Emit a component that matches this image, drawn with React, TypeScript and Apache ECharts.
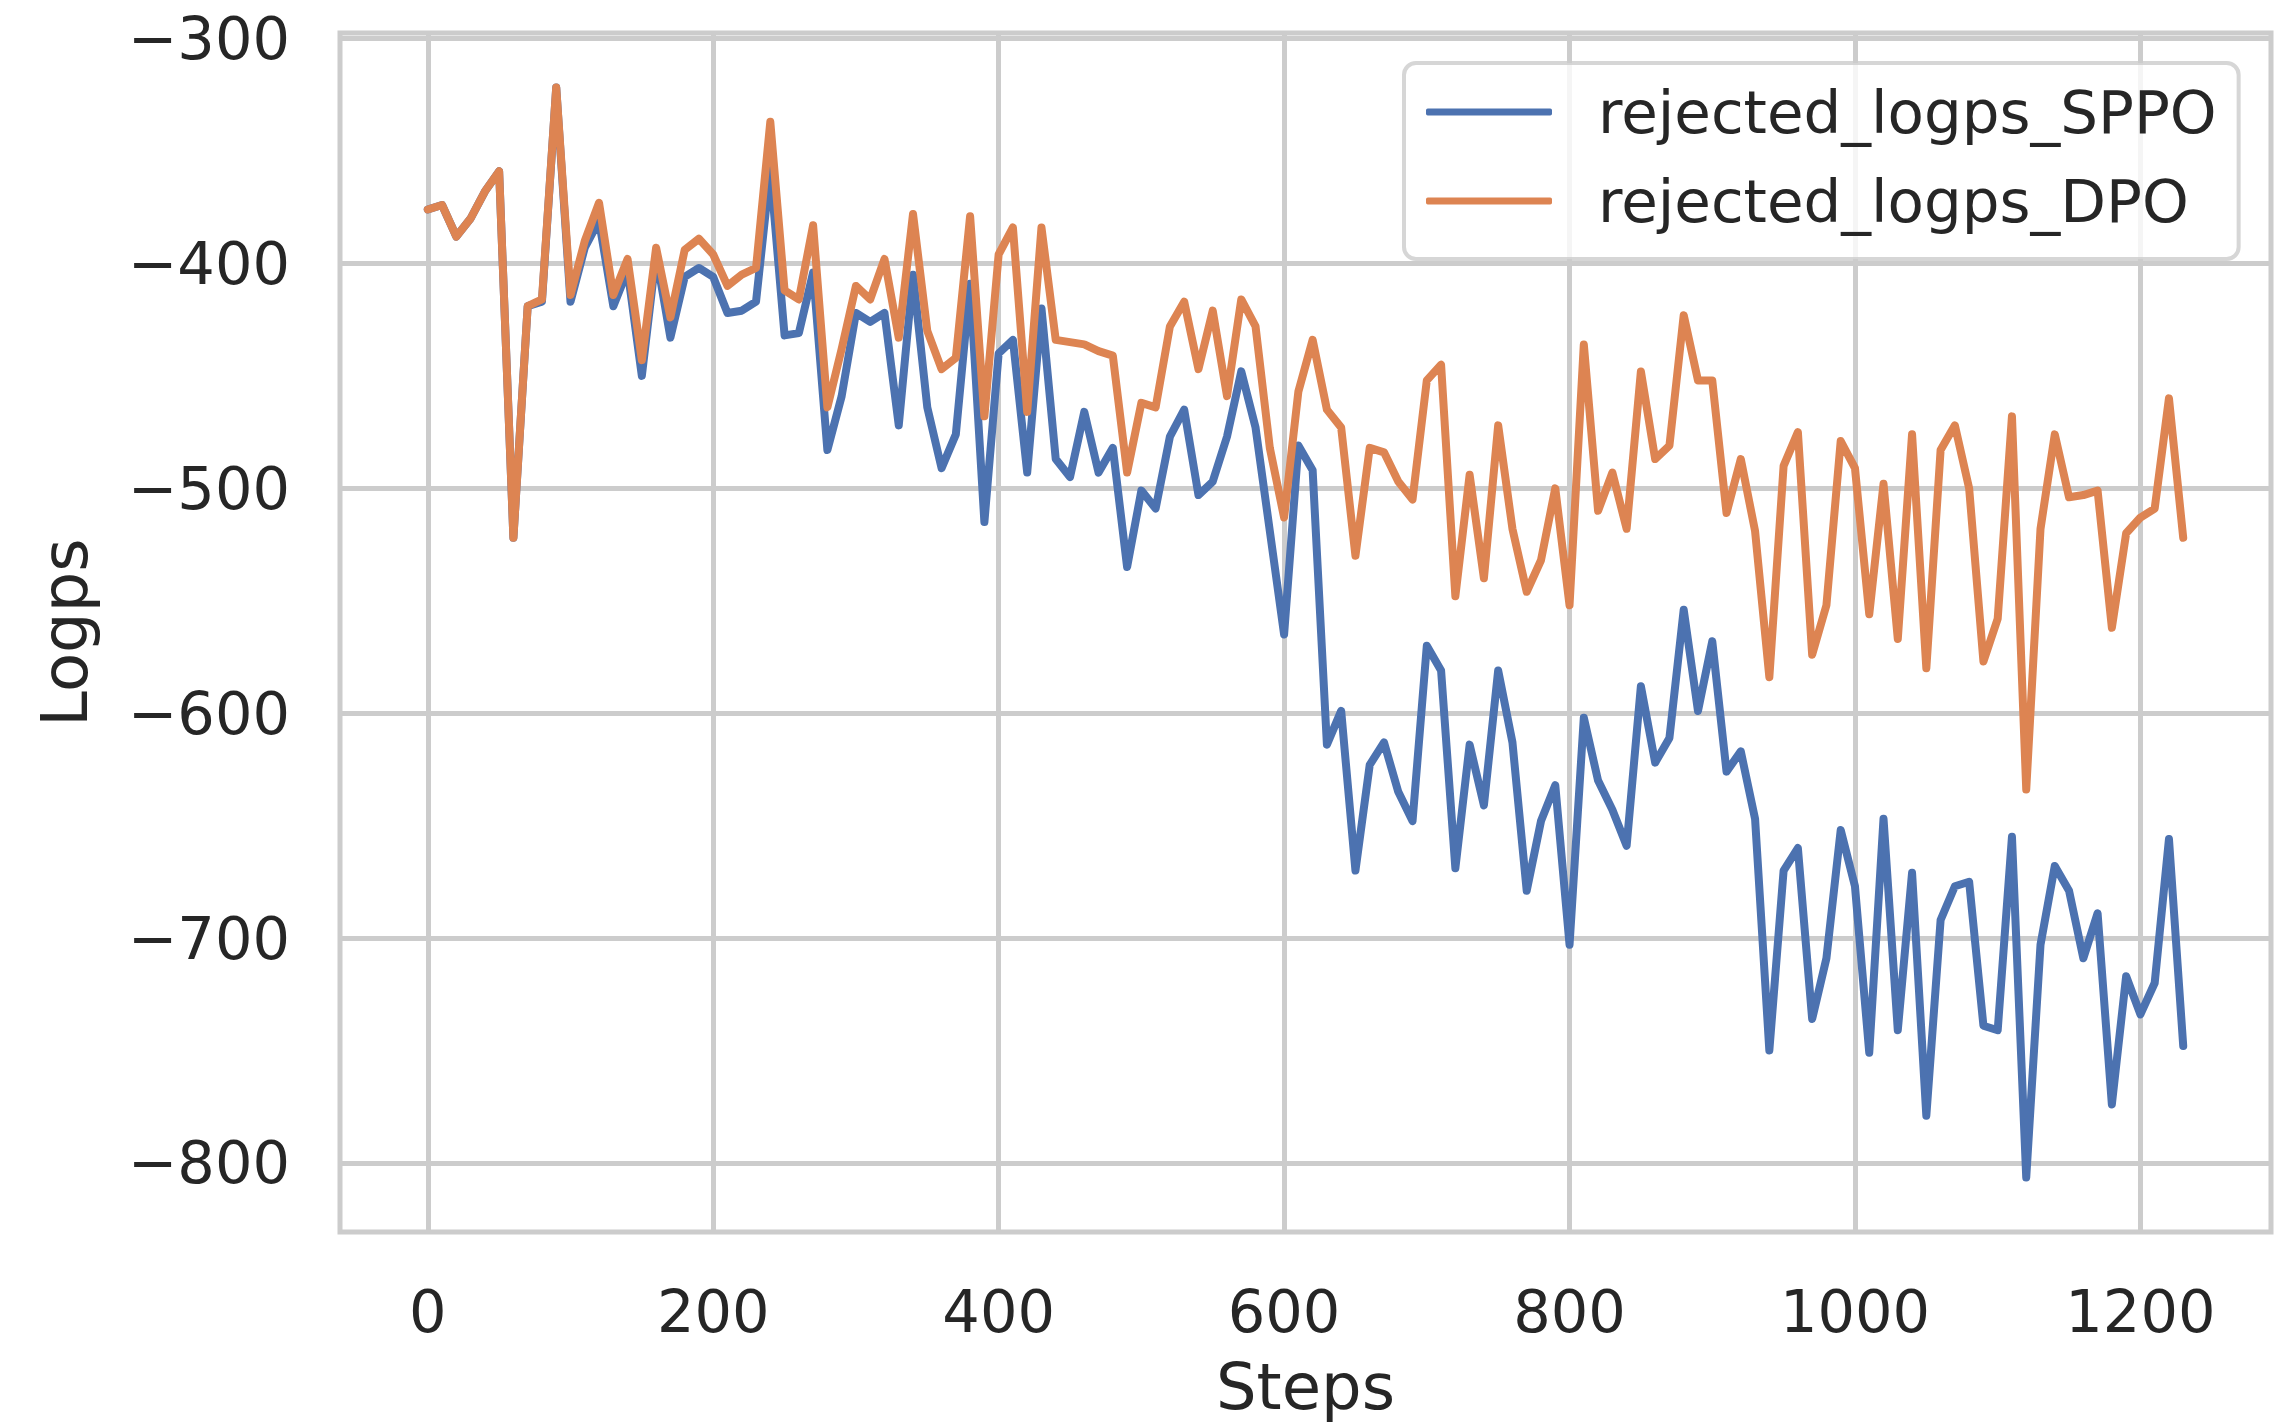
import React, { useEffect, useRef } from "react";
import * as echarts from "echarts";

const steps = [
  0, 10, 20, 30, 40, 50, 60, 70, 80, 90, 100, 110, 120, 130, 140, 150, 160, 170, 180, 190,
  200, 210, 220, 230, 240, 250, 260, 270, 280, 290, 300, 310, 320, 330, 340, 350, 360, 370, 380, 390,
  400, 410, 420, 430, 440, 450, 460, 470, 480, 490, 500, 510, 520, 530, 540, 550, 560, 570, 580, 590,
  600, 610, 620, 630, 640, 650, 660, 670, 680, 690, 700, 710, 720, 730, 740, 750, 760, 770, 780, 790,
  800, 810, 820, 830, 840, 850, 860, 870, 880, 890, 900, 910, 920, 930, 940, 950, 960, 970, 980, 990,
  1000, 1010, 1020, 1030, 1040, 1050, 1060, 1070, 1080, 1090, 1100, 1110, 1120, 1130, 1140, 1150, 1160, 1170, 1180, 1190,
  1200, 1210, 1220, 1230,
];

const sppo = [
  -376, -374, -388, -380, -368, -359, -522, -419, -417, -321.7, -417, -393, -381, -419, -403, -450, -396, -433, -406, -402,
  -406, -422, -421, -417, -358, -432, -431, -404, -483, -459, -422, -426, -422, -472, -405, -464, -491, -476, -409, -515,
  -440, -434, -493, -420, -487, -495, -466, -493, -482, -535, -501, -509, -477, -465, -503, -497, -477, -448, -473, -519,
  -565, -481, -492, -614, -599, -670, -623, -613, -635, -648, -570, -581, -669, -614, -641, -581, -613, -679, -648, -632,
  -703, -602, -630, -643, -659, -588, -622, -611, -554, -599, -568, -626, -617, -647, -750, -670, -660, -736, -709, -652,
  -677, -751, -647, -741, -671, -779, -692, -677, -675, -739, -741, -655, -806.5, -703, -668, -679, -709, -689, -774, -717,
  -734, -720, -656, -748,
];

const dpo = [
  -376, -374, -388, -380, -368, -359, -522, -419, -416, -321.7, -414, -390, -373, -414, -398, -443, -393, -424, -394, -389,
  -396, -410, -405, -402, -337, -412, -416, -383, -464, -438, -410, -416, -398, -433, -378, -430, -447, -442, -379, -468,
  -396, -384, -466, -384, -434, -435, -436, -439, -441, -493, -462, -464, -428, -417, -447, -421, -459, -416, -428, -482,
  -513, -457, -434, -465, -473, -530, -482, -484, -497, -505, -452, -445, -548, -494, -540, -472, -518, -546, -532, -500,
  -552, -436, -510, -493, -518, -448, -487, -481, -423, -452, -452, -511, -487, -519, -584, -490, -475, -574, -552, -479,
  -491, -556, -498, -567, -476, -580, -483, -472, -500, -577, -558, -468, -634, -518, -476, -504, -503, -501, -562, -520,
  -513, -509, -460, -522,
];

const xTicks = [0, 200, 400, 600, 800, 1000, 1200];
const yTicks = [-300, -400, -500, -600, -700, -800];
const seriesNames = ["rejected_logps_SPPO", "rejected_logps_DPO"];
const seriesColors = ["#4c72b0", "#dd8452"];
const xName = "Steps";
const yName = "Logps";

export default function App() {
  const ref = useRef<HTMLDivElement>(null);

  useEffect(() => {
    if (!ref.current) return;
    const chart = echarts.init(ref.current, null, { renderer: "svg" });
    const font = "DejaVu Sans";
    const textColor = "#262626";
    const grid = "#cccccc";
    const fmt = (v: number) => String(v).replace("-", "\u2212");
    const seriesData = [sppo, dpo];

    chart.setOption({
      animation: false,
      backgroundColor: "#ffffff",
      grid: {
        left: 340,
        right: 18,
        top: 33,
        bottom: 195,
        show: true,
        borderColor: grid,
        borderWidth: 5,
        backgroundColor: "transparent",
      },
      xAxis: {
        type: "value",
        min: -61.5,
        max: 1291.5,
        name: xName,
        nameLocation: "middle",
        nameGap: 123,
        nameTextStyle: { fontFamily: font, fontSize: 64, color: textColor },
        axisLine: { show: false },
        axisTick: { show: false, customValues: xTicks },
        axisLabel: {
          customValues: xTicks,
          fontFamily: font,
          fontSize: 59,
          color: textColor,
          margin: 50,
          formatter: fmt,
        },
        splitLine: { show: true, lineStyle: { color: grid, width: 5 } },
      },
      yAxis: {
        type: "value",
        min: -830.75,
        max: -297.5,
        name: yName,
        nameLocation: "middle",
        nameGap: 243,
        nameTextStyle: { fontFamily: font, fontSize: 64, color: textColor },
        axisLine: { show: false },
        axisTick: { show: false, customValues: yTicks },
        axisLabel: {
          customValues: yTicks,
          fontFamily: font,
          fontSize: 59,
          color: textColor,
          margin: 50,
          formatter: fmt,
        },
        splitLine: { show: true, lineStyle: { color: grid, width: 5 } },
      },
      legend: {
        left: 1404,
        top: 63,
        orient: "vertical",
        data: seriesNames.map((n) => ({ name: n, icon: "roundRect" })),
        itemWidth: 126,
        itemHeight: 7,
        itemGap: 19,
        textStyle: {
          fontFamily: font,
          fontSize: 59.5,
          color: textColor,
          lineHeight: 70,
          padding: [0, 0, 0, 41],
        },
        padding: [14, 22, 23, 22],
        backgroundColor: "rgba(255,255,255,0.8)",
        borderColor: "rgba(204,204,204,0.8)",
        borderWidth: 4,
        borderRadius: 12,
      },
      series: seriesNames.map((name, i) => ({
        name,
        type: "line",
        data: steps.map((s, j) => [s, seriesData[i][j]]),
        showSymbol: false,
        symbol: "none",
        color: seriesColors[i],
        lineStyle: { color: seriesColors[i], width: 8, cap: "round", join: "round" },
        emphasis: { disabled: true },
        z: 2 + i,
      })),
    });

    return () => chart.dispose();
  }, []);

  return (
    <div
      ref={ref}
      style={{ position: "fixed", left: 0, top: 0, width: 2289, height: 1427, background: "#fff" }}
    />
  );
}
